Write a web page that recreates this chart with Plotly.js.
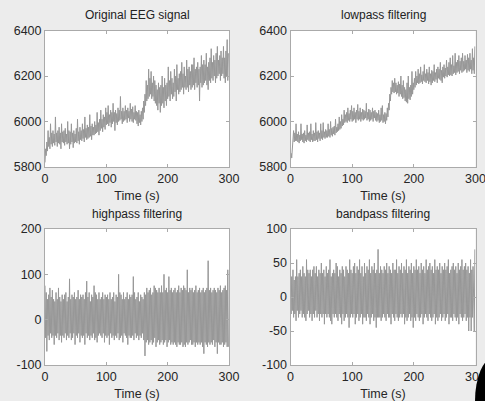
<!DOCTYPE html>
<html>
<head>
<meta charset="utf-8">
<script src="https://cdn.plot.ly/plotly-3.0.1.min.js"></script>
<style>html,body{margin:0;padding:0;background:#ececec;}#chart{width:485px;height:401px;}</style>
</head>
<body>
<div id="chart"></div>
<script>
// sample interval (s)
const dt = 1;
const titles = ["Original EEG signal", "lowpass filtering", "highpass filtering", "bandpass filtering"];
const xLabel = "Time (s)";
const xTicks = [0, 100, 200, 300];
const yTicksTop = [5800, 6000, 6200, 6400];
const yTicksHigh = [-100, 0, 100, 200];
const yTicksBand = [-100, -50, 0, 50, 100];

const original = [
 5820,5880,5850,5910,5870,5960,5890,5930,5880,5990,
 5900,5950,5890,5960,5905,5945,5895,6020,5910,5950,
 5890,5960,5905,5975,5900,5950,5880,5990,5910,5955,
 5905,5960,5895,5970,5910,5945,5900,6000,5905,5960,
 5880,5955,5900,5990,5910,5950,5885,5960,5905,5945,
 5910,5970,5905,6010,5915,5955,5900,5975,5920,5960,
 5915,5990,5925,5965,5910,6020,5930,5970,5920,5985,
 5925,5975,5930,6030,5935,5980,5920,5990,5940,5975,
 5940,6000,5945,5985,5950,6040,5955,5995,5940,6010,
 5960,6050,5970,6010,5955,6030,5975,6020,5965,6060,
 5985,6040,5990,6070,5980,6030,5995,6050,5975,6040,
 5990,6080,6000,6040,5960,6050,5995,6035,5985,6060,
 6000,6050,6005,6110,6010,6045,5990,6060,6000,6045,
 6005,6070,6010,6050,5995,6060,6015,6045,6000,6080,
 6010,6055,6000,6065,5995,6040,6010,6070,6005,6045,
 5990,6040,5980,6050,5995,6030,5985,6045,6000,6060,
 6010,6090,6040,6120,6070,6180,6090,6160,6100,6230,
 6110,6190,6120,6220,6100,6170,6110,6200,6090,6180,
 6080,6160,6070,6140,6050,6170,6080,6150,6040,6160,
 6070,6200,6080,6150,6060,6190,6090,6160,6070,6170,
 6100,6240,6110,6180,6090,6220,6120,6190,6100,6170,
 6110,6230,6130,6200,6090,6250,6140,6190,6120,6210,
 6130,6220,6140,6260,6150,6210,6120,6240,6150,6200,
 6140,6270,6150,6230,6130,6240,6160,6220,6140,6250,
 6150,6250,6160,6280,6140,6230,6170,6240,6150,6260,
 6160,6230,6090,6240,6170,6290,6150,6250,6160,6270,
 6170,6250,6180,6300,6160,6240,6140,6260,6180,6280,
 6170,6320,6190,6260,6180,6290,6200,6270,6170,6300,
 6190,6330,6200,6270,6210,6290,6180,6310,6200,6280,
 6210,6330,6190,6280,6170,6310,6200,6360,6180,6300
];
const lowpass = [
 5830,5860,5840,5880,5900,5960,5910,5950,5915,5990,
 5915,5945,5910,5955,5905,5940,5915,5990,5920,5945,
 5910,5950,5905,5960,5915,5940,5910,5985,5920,5950,
 5915,5955,5910,5990,5920,5945,5910,5960,5915,5950,
 5915,5995,5920,5955,5910,5960,5925,5950,5915,5990,
 5925,5960,5920,5995,5930,5955,5925,5965,5930,5960,
 5930,5990,5935,5965,5930,6000,5940,5970,5935,5975,
 5945,5980,5940,6010,5950,5975,5955,5990,5960,6020,
 5965,6000,5970,6030,5980,6010,5985,6050,5995,6030,
 6000,6040,5995,6060,6005,6035,6000,6050,6010,6070,
 6000,6045,6005,6060,6010,6040,5995,6050,6010,6075,
 6005,6045,6010,6060,6000,6040,6010,6055,6005,6050,
 6010,6045,6015,6080,6005,6040,6010,6055,6000,6050,
 6005,6040,6010,6060,6000,6045,6015,6050,6005,6040,
 6000,6035,6005,6050,5995,6030,6000,6060,6005,6070,
 5995,6030,6000,6040,5990,6035,6005,6060,6020,6080,
 6050,6120,6090,6150,6120,6180,6130,6170,6125,6190,
 6130,6170,6120,6160,6125,6175,6110,6165,6120,6200,
 6110,6160,6100,6180,6105,6150,6090,6140,6085,6170,
 6080,6200,6100,6150,6095,6160,6110,6220,6120,6170,
 6140,6190,6150,6220,6160,6200,6170,6230,6165,6210,
 6170,6240,6175,6205,6165,6220,6180,6250,6175,6210,
 6170,6230,6180,6215,6165,6240,6175,6210,6160,6225,
 6170,6220,6180,6250,6175,6215,6185,6230,6170,6240,
 6190,6230,6185,6260,6180,6225,6170,6240,6195,6250,
 6190,6235,6200,6270,6195,6240,6205,6260,6200,6280,
 6205,6250,6200,6290,6210,6245,6215,6300,6205,6260,
 6215,6270,6220,6290,6210,6265,6225,6280,6215,6300,
 6220,6265,6225,6290,6230,6270,6215,6295,6225,6280,
 6220,6300,6230,6270,6210,6320,6225,6280,6210,6330
];
const highpass = [
 75,-40,60,-70,45,-35,55,-45,70,-30,
 50,-40,65,-35,45,-55,40,-35,60,-40,
 45,-30,70,-45,50,-35,40,-50,55,-35,
 45,-40,55,-30,60,-45,40,-35,50,-40,
 90,-30,45,-45,55,-40,50,-30,60,-55,
 45,-35,50,-40,65,-30,45,-50,55,-35,
 50,-40,55,-35,45,-55,60,-30,85,-40,
 50,-35,60,-45,40,-35,55,-40,50,-30,
 75,-45,60,-40,55,-50,45,-35,60,-30,
 45,-35,50,-40,60,-30,45,-50,55,-35,
 50,-40,55,-35,45,-55,60,-30,45,-40,
 50,-35,60,-45,40,-35,55,-40,50,-30,
 100,-45,60,-40,55,-35,45,-50,60,-30,
 45,-35,50,-40,60,-55,45,-35,55,-40,
 50,-40,55,-35,95,-45,60,-30,45,-40,
 50,-35,60,-45,40,-35,55,-40,50,-30,
 45,-45,60,-80,55,-50,70,-45,60,-55,
 65,-50,70,-45,55,-55,60,-50,75,-40,
 70,-60,65,-50,60,-45,70,-55,60,-50,
 75,-45,60,-55,100,-50,65,-45,70,-60,
 60,-50,95,-45,65,-55,70,-50,60,-55,
 65,-50,70,-55,60,-60,65,-50,75,-55,
 60,-55,70,-50,65,-60,75,-55,70,-60,
 65,-50,110,-55,60,-50,70,-45,65,-55,
 70,-55,60,-50,65,-60,75,-50,60,-55,
 65,-50,70,-55,60,-50,65,-60,70,-75,
 60,-50,65,-55,70,-60,130,-50,65,-55,
 70,-50,60,-55,65,-45,70,-60,65,-50,
 60,-75,70,-50,65,-55,75,-55,60,-50,
 65,-60,70,-55,75,-50,65,-60,110,-60
];
const bandpass = [
 35,-25,30,-20,40,-30,25,-25,30,-35,
 55,-20,30,-30,35,-25,40,-20,30,-30,
 45,-25,35,-30,30,-35,55,-25,40,-20,
 35,-30,40,-25,30,-35,40,-25,45,-30,
 35,-20,45,-30,30,-25,40,-35,35,-25,
 50,-30,35,-25,40,-40,30,-25,45,-30,
 35,-25,40,-30,55,-35,30,-40,35,-25,
 40,-30,35,-25,50,-30,45,-35,30,-25,
 40,-30,35,-40,45,-25,40,-35,30,-30,
 45,-25,40,-30,35,-45,55,-30,40,-25,
 35,-30,45,-25,50,-40,35,-30,45,-25,
 40,-35,55,-30,35,-25,45,-40,30,-30,
 50,-30,35,-35,45,-25,40,-30,55,-40,
 35,-30,45,-25,40,-35,50,-30,35,-45,
 40,-30,70,-30,35,-30,45,-35,40,-30,
 35,-25,45,-30,40,-35,50,-25,35,-30,
 45,-30,40,-40,35,-25,50,-30,40,-35,
 40,-25,55,-30,35,-35,45,-30,40,-25,
 50,-30,35,-25,45,-40,40,-30,55,-35,
 35,-30,45,-25,40,-35,50,-30,35,-45,
 45,-30,40,-35,55,-25,40,-30,45,-35,
 35,-30,50,-25,40,-40,45,-30,35,-25,
 55,-30,40,-35,45,-25,50,-30,40,-35,
 45,-30,35,-25,55,-40,40,-30,45,-35,
 40,-30,50,-25,35,-35,45,-30,40,-25,
 50,-35,40,-30,45,-25,55,-40,35,-30,
 40,-30,45,-35,50,-25,40,-30,45,-35,
 35,-30,50,-40,40,-25,45,-30,55,-35,
 40,-30,45,-25,50,-35,40,-30,45,-50,
 35,-30,55,-50,40,-30,45,-35,-50,70
];

const series = [original, lowpass, highpass, bandpass];
const axisIds = [["x","y"],["x2","y2"],["x3","y3"],["x4","y4"]];
const lineColor = "#979797";

const traces = series.map((vals, i) => ({
  type: "scatter", mode: "lines",
  x: vals.map((_, k) => k * dt),
  y: vals,
  xaxis: axisIds[i][0], yaxis: axisIds[i][1],
  line: {color: lineColor, width: 1},
  hoverinfo: "skip", showlegend: false
}));

const W = 485, H = 401;
const px = (a, b) => [a / W, b / W];
const py = (top, bottom) => [1 - bottom / H, 1 - top / H];

const font = {family: "Liberation Sans, Arial, sans-serif", size: 12.5, color: "#262626"};
function xa(dom) {
  return {domain: dom, range: [0, 300], tickvals: xTicks, ticktext: xTicks.map(String),
    ticks: "inside", ticklen: 3, tickcolor: "#aaa", showline: true, linecolor: "#aaa", linewidth: 1,
    mirror: "ticks", showgrid: false, zeroline: false, tickfont: font, ticklabeloverflow: "allow",
    title: {text: xLabel, font: font, standoff: 6}};
}
function ya(dom, range, ticks) {
  return {domain: dom, range: range, tickvals: ticks, ticktext: ticks.map(String),
    ticks: "inside", ticklen: 3, tickcolor: "#aaa", showline: true, linecolor: "#aaa", linewidth: 1,
    mirror: "ticks", showgrid: false, zeroline: false, tickfont: font, ticklabeloverflow: "allow"};
}

const dL = px(45, 229), dR = px(290.5, 475.5);
const dT = py(30.5, 167), dB = py(229, 365);

const layout = {
  width: W, height: H,
  paper_bgcolor: "#ececec", plot_bgcolor: "#ffffff",
  margin: {l: 0, r: 0, t: 0, b: 0},
  font: font,
  xaxis: Object.assign(xa(dL), {anchor: "y"}),
  yaxis: Object.assign(ya(dT, [5800, 6400], yTicksTop), {anchor: "x"}),
  xaxis2: Object.assign(xa(dR), {anchor: "y2"}),
  yaxis2: Object.assign(ya(dT, [5800, 6400], yTicksTop), {anchor: "x2"}),
  xaxis3: Object.assign(xa(dL), {anchor: "y3"}),
  yaxis3: Object.assign(ya(dB, [-100, 200], yTicksHigh), {anchor: "x3"}),
  xaxis4: Object.assign(xa(dR), {anchor: "y4"}),
  yaxis4: Object.assign(ya(dB, [-100, 100], yTicksBand), {anchor: "x4"}),
  annotations: [
    {text: titles[0], x: (dL[0]+dL[1])/2, y: 1 - 15.5/H},
    {text: titles[1], x: (dR[0]+dR[1])/2, y: 1 - 15.5/H},
    {text: titles[2], x: (dL[0]+dL[1])/2, y: 1 - 214/H},
    {text: titles[3], x: (dR[0]+dR[1])/2, y: 1 - 214/H}
  ].map(a => Object.assign(a, {xref: "paper", yref: "paper", showarrow: false,
    xanchor: "center", yanchor: "middle", font: {family: font.family, size: 12, color: "#222"}})),
  shapes: [
    {type: "circle", xref: "paper", yref: "paper", layer: "above",
     x0: 475/W, x1: 512/W, y0: 1 - 445/H, y1: 1 - 358/H,
     fillcolor: "#000", line: {width: 0}}
  ]
};

Plotly.newPlot("chart", traces, layout, {staticPlot: true, displayModeBar: false});
</script>
</body>
</html>
